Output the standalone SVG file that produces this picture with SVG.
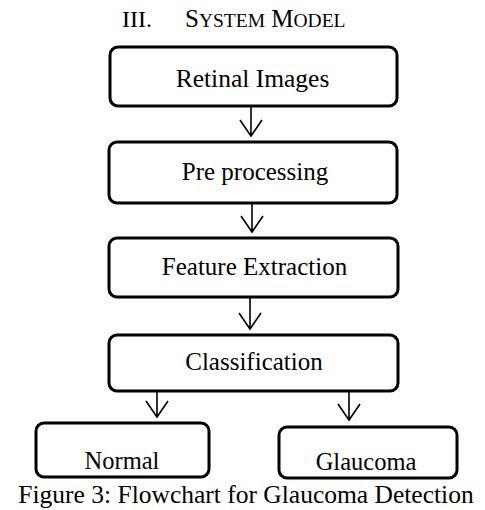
<svg xmlns="http://www.w3.org/2000/svg" width="485" height="510" viewBox="0 0 485 510">
<style>
.box{fill:#fff;stroke:#000;stroke-width:3}
.t{font-family:"Liberation Serif","Times New Roman",serif;fill:#000;text-anchor:middle}
.c{stroke:#000;stroke-width:1.6;fill:none}
</style>
<rect width="485" height="510" fill="#fff"/>
<g id="title">
<text class="t" style="text-anchor:start" x="122" y="27" font-size="24">III.</text>
<text class="t" style="text-anchor:start" x="185" y="27" font-size="25">S<tspan font-size="19.5">YSTEM</tspan> M<tspan font-size="19.5">ODEL</tspan></text>
</g>
<g id="connectors">
<path class="c" d="M251 106V136M240 120L251 136L262 120"/>
<path class="c" d="M252 203V232M241 216L252 232L263 216"/>
<path class="c" d="M250 297V329M239 313L250 329L261 313"/>
<path class="c" d="M157 391V417M146 401L157 417L168 401"/>
<path class="c" d="M349 391V420M338 404L349 420L360 404"/>
</g>
<g id="n1"><rect class="box" x="110" y="47" width="287" height="59" rx="8"/><text class="t" x="252.5" y="87" font-size="25.5">Retinal Images</text></g>
<g id="n2"><rect class="box" x="109" y="142" width="288" height="61" rx="8"/><text class="t" x="255" y="180" font-size="25">Pre processing</text></g>
<g id="n3"><rect class="box" x="109" y="238" width="289" height="59" rx="8"/><text class="t" x="254.5" y="275" font-size="25">Feature Extraction</text></g>
<g id="n4"><rect class="box" x="109" y="335" width="289" height="56" rx="8"/><text class="t" x="254" y="370" font-size="25">Classification</text></g>
<g id="n5"><rect class="box" x="36" y="423" width="173" height="54" rx="8"/><text class="t" x="122" y="469" font-size="24.5">Normal</text></g>
<g id="n6"><rect class="box" x="279" y="427" width="178" height="51" rx="8"/><text class="t" x="366" y="470" font-size="24.5">Glaucoma</text></g>
<g id="caption"><text class="t" x="246" y="503" font-size="25.5">Figure 3: Flowchart for Glaucoma Detection</text></g>
</svg>
